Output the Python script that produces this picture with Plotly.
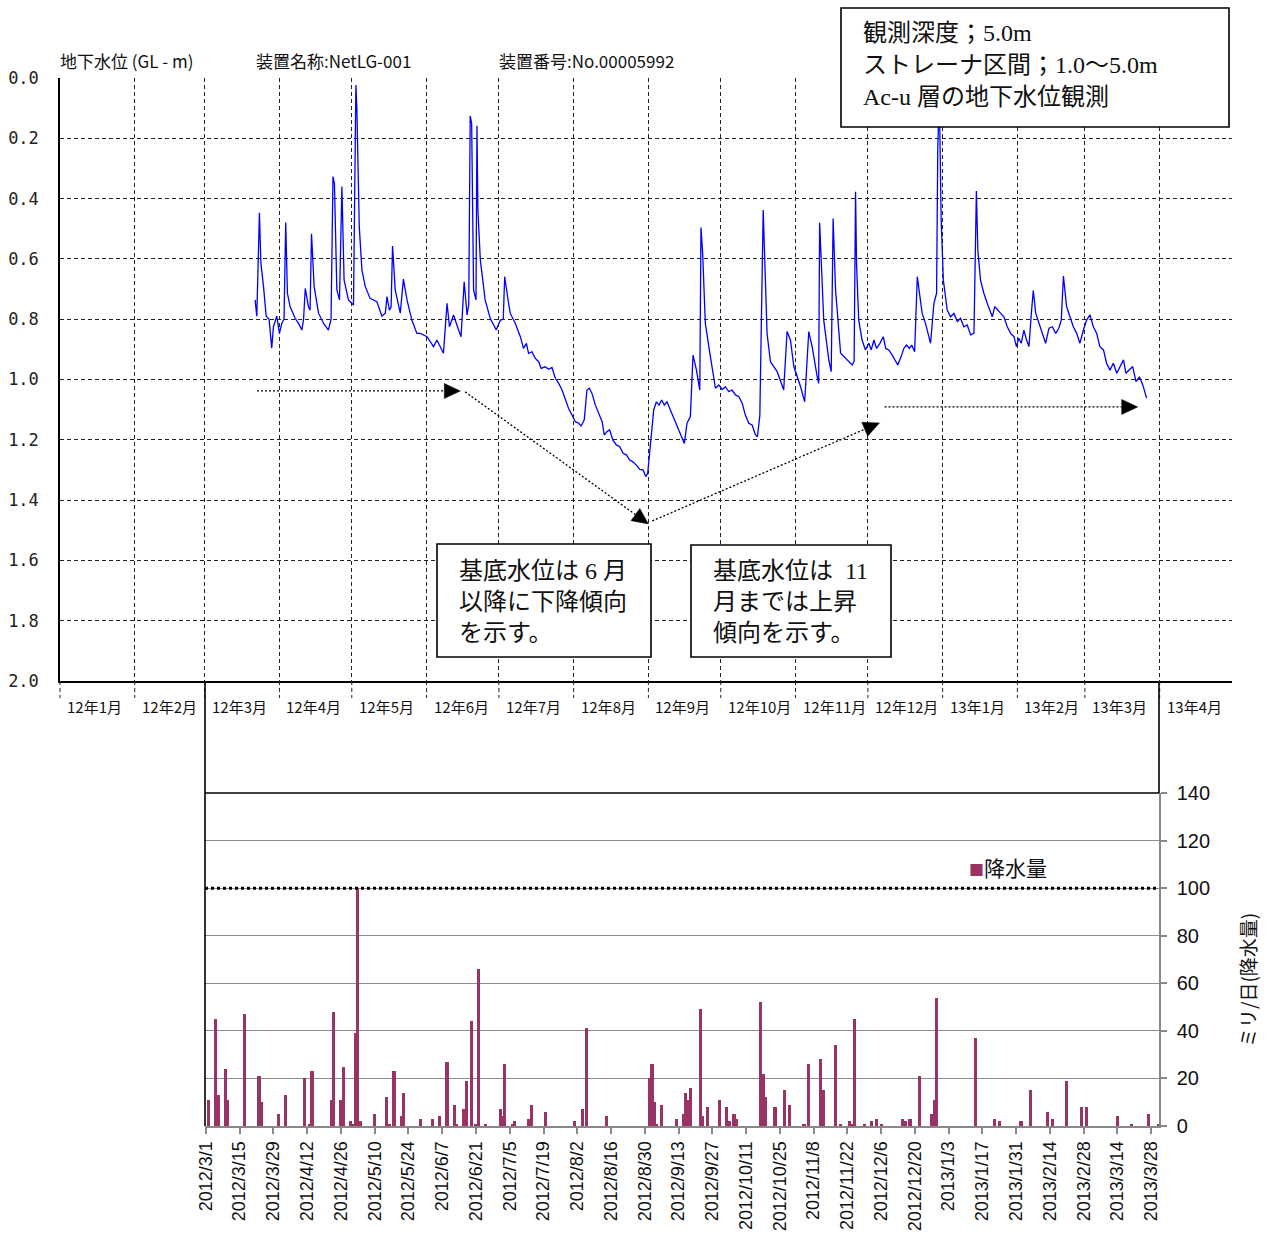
import math
import pandas as pd
import plotly.graph_objects as go

W, H = 1274, 1238

# ---------------------------------------------------------------------------
# Groundwater level record (NetLG-001): days elapsed since 2012-01-01 00:00
# and depth of the water table below ground level (m)
# ---------------------------------------------------------------------------
gw_day = [
    # Mar - mid Jul 2012
    80.9, 81.6, 82.7, 83.3, 84.4, 85.5, 86.7, 87.8, 88.5, 89.9, 91.0, 92.0, 92.9,
    93.6, 94.3, 95.4, 97.5, 98.9, 100.3, 101.0, 101.7, 103.0, 103.7, 104.3, 105.4,
    107.2, 109.3, 111.3, 112.4, 113.2, 113.8, 114.8, 115.9, 116.9, 117.8, 119.6,
    121.7, 122.7, 123.1, 124.1, 125.2, 126.6, 128.6, 131.4, 133.5, 134.9, 135.6,
    136.6, 137.3, 137.9, 139.0, 141.1, 142.4, 143.9, 145.9, 148.0, 149.4, 152.2,
    154.9, 156.3, 159.0, 160.5, 161.5, 163.2, 165.3, 166.3, 167.6, 168.8, 169.5,
    170.1, 170.7, 171.5, 172.5, 172.9, 173.3, 174.3, 176.3, 178.4, 180.9, 182.6,
    183.8, 184.4, 186.0,
    # Jul - Aug 2012 recession
    186.7, 188.8, 190.9, 192.2, 193.4, 194.3, 195.7, 197.1, 198.5, 199.5, 201.2,
    202.6, 204.0, 205.4, 206.8, 208.2, 209.5, 210.9, 212.3, 213.7, 215.1, 216.1,
    217.4, 218.5, 219.5, 220.6, 222.0, 223.4, 224.8, 225.7, 226.8, 227.9, 229.3,
    230.7, 232.1, 233.5, 234.9, 236.2, 237.6, 239.0, 240.4, 241.8, 242.9, 243.7,
    244.8,
    # Sep 2012
    246.2, 247.3, 248.4, 249.5, 250.6, 251.7, 253.1, 254.5, 255.9, 257.3, 258.9,
    260.0, 261.4, 262.5, 263.9, 265.3, 265.8, 266.5, 267.2, 267.6, 269.7,
    # Oct - Nov 2012
    271.8, 273.2, 274.6, 275.9, 277.3, 278.7, 280.1, 281.5, 282.9, 284.2, 285.6,
    287.0, 288.4, 289.2, 290.2, 291.6, 292.1, 293.2, 294.6, 297.4, 300.1, 301.5,
    302.9, 304.3, 307.1, 308.8, 310.5, 311.9, 314.0, 314.6, 315.0, 315.6, 316.7,
    318.8, 319.8, 320.6, 321.6, 323.7, 326.4, 328.5, 329.3, 329.9, 330.3,
    # Dec 2012
    331.2, 332.6, 334.0, 335.4, 336.4, 337.5, 338.6, 340.0, 341.4, 342.4, 343.7,
    345.1, 346.5, 347.4, 348.8, 349.9, 351.0, 352.2, 353.2, 354.4, 355.5, 357.5,
    358.9, 361.0, 362.4, 363.5, 364.0, 364.4, 364.8, 365.4, 366.3,
    # Jan - Mar 2013
    367.9, 369.3, 370.7, 372.1, 373.4, 374.8, 376.2, 377.6, 379.0, 380.0, 380.6,
    381.7, 383.1, 384.5, 385.9, 386.6, 387.6, 388.7, 390.0, 391.4, 392.8, 394.2,
    395.6, 396.6, 397.6, 398.6, 399.7, 400.8, 401.8, 402.8, 403.6, 404.6, 405.9,
    407.3, 408.7, 410.1, 411.5, 412.9, 414.2, 415.2, 416.1, 417.4, 418.8, 420.2,
    421.6, 422.9, 424.4, 425.7, 427.1, 428.5, 429.9, 431.2, 432.7, 434.0, 435.4,
    436.8, 438.2, 439.5, 441.0, 442.0, 443.4, 444.8, 446.2, 447.6, 449.0, 450.6,
]
gw_level = [
    # Mar - mid Jul 2012
    0.736, 0.790, 0.447, 0.614, 0.692, 0.790, 0.800, 0.896, 0.825, 0.790, 0.847, 0.813, 0.800,
    0.479, 0.714, 0.758, 0.797, 0.814, 0.836, 0.800, 0.698, 0.758, 0.770, 0.517, 0.692,
    0.780, 0.814, 0.836, 0.800, 0.327, 0.350, 0.703, 0.736, 0.360, 0.670, 0.736,
    0.753, 0.023, 0.100, 0.493, 0.637, 0.692, 0.731, 0.742, 0.790, 0.780, 0.725,
    0.770, 0.760, 0.557, 0.703, 0.780, 0.667, 0.736, 0.803, 0.847, 0.847, 0.858,
    0.891, 0.869, 0.913, 0.747, 0.825, 0.786, 0.836, 0.858, 0.676, 0.786, 0.750,
    0.126, 0.150, 0.703, 0.736, 0.158, 0.438, 0.604, 0.736, 0.797, 0.836, 0.803,
    0.800, 0.659, 0.747,
    # Jul - Aug 2012 recession
    0.780, 0.814, 0.858, 0.897, 0.880, 0.913, 0.908, 0.930, 0.941, 0.963, 0.958,
    0.966, 0.960, 0.996, 1.013, 1.035, 1.062, 1.096, 1.118, 1.140, 1.145, 1.154,
    1.134, 1.035, 1.029, 1.046, 1.085, 1.112, 1.140, 1.184, 1.173, 1.167, 1.201,
    1.217, 1.223, 1.245, 1.250, 1.267, 1.273, 1.284, 1.298, 1.300, 1.322, 1.311,
    1.223,
    # Sep 2012
    1.101, 1.074, 1.085, 1.068, 1.085, 1.074, 1.101, 1.129, 1.156, 1.179, 1.212,
    1.145, 1.123, 0.919, 0.968, 1.035, 0.496, 0.582, 0.780, 0.814, 0.924,
    # Oct - Nov 2012
    1.029, 1.018, 1.033, 1.024, 1.040, 1.035, 1.051, 1.057, 1.079, 1.118, 1.145,
    1.151, 1.184, 1.190, 1.120, 0.438, 0.559, 0.847, 0.941, 0.974, 1.035, 0.841,
    0.869, 0.957, 1.024, 1.074, 0.841, 0.891, 0.991, 1.013, 0.480, 0.604, 0.803,
    0.935, 0.974, 0.466, 0.703, 0.913, 0.935, 0.952, 0.940, 0.377, 0.615,
    # Dec 2012
    0.803, 0.869, 0.902, 0.880, 0.902, 0.869, 0.897, 0.880, 0.858, 0.897, 0.902,
    0.919, 0.941, 0.952, 0.924, 0.897, 0.886, 0.897, 0.886, 0.908, 0.659, 0.780,
    0.814, 0.880, 0.747, 0.714, 0.228, 0.120, 0.150, 0.471, 0.670,
    # Jan - Mar 2013
    0.770, 0.792, 0.781, 0.808, 0.797, 0.825, 0.819, 0.852, 0.847, 0.375, 0.570,
    0.670, 0.714, 0.747, 0.780, 0.792, 0.758, 0.770, 0.780, 0.792, 0.825, 0.847,
    0.858, 0.891, 0.863, 0.880, 0.836, 0.869, 0.891, 0.780, 0.705, 0.780, 0.814,
    0.847, 0.880, 0.830, 0.825, 0.847, 0.830, 0.803, 0.657, 0.758, 0.792, 0.825,
    0.847, 0.880, 0.836, 0.803, 0.786, 0.825, 0.847, 0.891, 0.902, 0.946, 0.969,
    0.946, 0.979, 0.957, 0.935, 0.979, 0.969, 0.957, 1.007, 0.991, 1.018, 1.062,
]

# ---------------------------------------------------------------------------
# Daily precipitation (mm/day)
# ---------------------------------------------------------------------------
rain_date = [
    "2012-03-02", "2012-03-05", "2012-03-06", "2012-03-09", "2012-03-10", "2012-03-17",
    "2012-03-23", "2012-03-24", "2012-03-31", "2012-04-03", "2012-04-11", "2012-04-13",
    "2012-04-14", "2012-04-22", "2012-04-23", "2012-04-26", "2012-04-27", "2012-04-30",
    "2012-05-01", "2012-05-02", "2012-05-03", "2012-05-04", "2012-05-10", "2012-05-15",
    "2012-05-16", "2012-05-18", "2012-05-21", "2012-05-22", "2012-05-29", "2012-06-03",
    "2012-06-06", "2012-06-09", "2012-06-12", "2012-06-13", "2012-06-16", "2012-06-17",
    "2012-06-19", "2012-06-21", "2012-06-22", "2012-06-25", "2012-07-01", "2012-07-02",
    "2012-07-03", "2012-07-06", "2012-07-07", "2012-07-13", "2012-07-14", "2012-07-20",
    "2012-08-01", "2012-08-04", "2012-08-06", "2012-08-14", "2012-09-01", "2012-09-02",
    "2012-09-03", "2012-09-04", "2012-09-06", "2012-09-12", "2012-09-15", "2012-09-16",
    "2012-09-17", "2012-09-18", "2012-09-22", "2012-09-23", "2012-09-25", "2012-09-30",
    "2012-10-03", "2012-10-04", "2012-10-06", "2012-10-07", "2012-10-17", "2012-10-18",
    "2012-10-19", "2012-10-23", "2012-10-27", "2012-10-29", "2012-11-04", "2012-11-06",
    "2012-11-11", "2012-11-12", "2012-11-17", "2012-11-19", "2012-11-23", "2012-11-24",
    "2012-11-25", "2012-11-29", "2012-12-02", "2012-12-04", "2012-12-06", "2012-12-15",
    "2012-12-16", "2012-12-18", "2012-12-22", "2012-12-27", "2012-12-28", "2012-12-29",
    "2013-01-14", "2013-01-22", "2013-01-24", "2013-02-02", "2013-02-06", "2013-02-13",
    "2013-02-15", "2013-02-21", "2013-02-27", "2013-03-01", "2013-03-14", "2013-03-20",
    "2013-03-27", "2013-03-31",
]
rain_mm = [
    11, 45, 13, 24, 11, 47,
    21, 10, 5, 13, 20, 1,
    23, 11, 48, 11, 25, 2,
    1, 39, 100, 2, 5, 12,
    1, 23, 4, 14, 3, 3,
    4, 27, 9, 1, 7, 19,
    44, 1, 66, 1, 7, 4,
    26, 1, 2, 3, 9, 6,
    2, 7, 41, 4, 20, 26,
    10, 1, 9, 3, 5, 14,
    11, 16, 49, 4, 8, 11,
    8, 2, 5, 3, 52, 22,
    12, 8, 15, 9, 1, 26,
    28, 15, 34, 1, 2, 1,
    45, 1, 2, 3, 1, 3,
    2, 3, 21, 5, 11, 54,
    37, 3, 2, 2, 15, 6,
    3, 19, 8, 8, 4, 1,
    5, 1,
]

month_label = ["12年1月", "12年2月", "12年3月", "12年4月", "12年5月", "12年6月",
               "12年7月", "12年8月", "12年9月", "12年10月", "12年11月", "12年12月",
               "13年1月", "13年2月", "13年3月", "13年4月"]
depth_ticks = [0.0, 0.2, 0.4, 0.6, 0.8, 1.0, 1.2, 1.4, 1.6, 1.8, 2.0]
rain_ticks = [0, 20, 40, 60, 80, 100, 120, 140]

# trend guides drawn over the level plot: (start day, start level, end day, end level)
trend_day0 = [81.7, 168.0, 245.6, 341.9]
trend_lvl0 = [1.038, 1.041, 1.469, 1.091]
trend_day1 = [166.0, 244.0, 339.8, 446.9]
trend_lvl1 = [1.038, 1.479, 1.144, 1.091]

assert len(gw_day) == len(gw_level)
assert len(rain_date) == len(rain_mm)

# ---------------------------------------------------------------------------
# page geometry (pixels) and helpers
# ---------------------------------------------------------------------------
BASE = pd.Timestamp("2012-01-01")
X_END = pd.Timestamp("2013-05-01")
SPAN_DAYS = (X_END - BASE).days
L1, R1, T1, B1 = 60, 1232, 78, 681        # level plot
L2, R2, T2, B2 = 205, 1159, 793, 1126     # precipitation plot


def px(x):
    return x / W


def py(y):
    return 1 - y / H


def day_to_px(d):
    return L1 + d * (R1 - L1) / SPAN_DAYS


def px_to_day(x):
    return (x - L1) * SPAN_DAYS / (R1 - L1)


def lvl_to_py(v):
    return T1 + v * (B1 - T1) / 2.0


def py_to_lvl(y):
    return (y - T1) * 2.0 / (B1 - T1)


def at_day(d):
    return BASE + pd.Timedelta(days=d)


gw_time = [at_day(d) for d in gw_day]
month_starts = pd.date_range("2012-01-01", "2013-04-01", freq="MS")

fig = go.Figure()

# groundwater level line
fig.add_trace(go.Scatter(
    x=gw_time, y=gw_level, mode="lines",
    line=dict(color="#0000ff", width=1.3),
    xaxis="x", yaxis="y", hoverinfo="skip",
))

# dotted trend guides with solid arrowheads
for d0, v0, d1, v1 in zip(trend_day0, trend_lvl0, trend_day1, trend_lvl1):
    x0, y0 = day_to_px(d0), lvl_to_py(v0)
    x1, y1 = day_to_px(d1), lvl_to_py(v1)
    n = math.hypot(x1 - x0, y1 - y0)
    ux, uy = (x1 - x0) / n, (y1 - y0) / n
    head_len, head_half = 16.0, 7.5
    bx, by = x1 - head_len * ux, y1 - head_len * uy
    fig.add_trace(go.Scatter(
        x=[at_day(d0), at_day(px_to_day(bx))], y=[v0, py_to_lvl(by)],
        mode="lines", line=dict(color="black", width=1.3, dash="2px,2px"),
        xaxis="x", yaxis="y", hoverinfo="skip",
    ))
    tri_x = [x1, bx - head_half * uy, bx + head_half * uy, x1]
    tri_y = [y1, by + head_half * ux, by - head_half * ux, y1]
    fig.add_trace(go.Scatter(
        x=[at_day(px_to_day(a)) for a in tri_x], y=[py_to_lvl(b) for b in tri_y],
        mode="lines", fill="toself", fillcolor="black", line=dict(color="black", width=0.5),
        xaxis="x", yaxis="y", hoverinfo="skip",
    ))

# precipitation bars (one category per day, centred at noon)
rain_time = [pd.Timestamp(d) + pd.Timedelta(hours=12) for d in rain_date]
fig.add_trace(go.Bar(
    x=rain_time, y=rain_mm, width=1.3 * 86400000,
    marker=dict(color="#993366", line=dict(width=0)),
    xaxis="x2", yaxis="y2", hoverinfo="skip",
))

# ---------------------------------------------------------------------------
# axes
# ---------------------------------------------------------------------------
grid_dash = "4px,3px"
fig.update_layout(
    xaxis=dict(
        domain=[px(L1), px(R1)], anchor="y", type="date", automargin=False,
        range=[BASE, X_END], tick0="2012-01-01", dtick="M1",
        showgrid=True, gridcolor="#222", gridwidth=1, griddash=grid_dash,
        showticklabels=False, ticks="", showline=True, linecolor="black", linewidth=1.5,
        zeroline=False,
    ),
    yaxis=dict(
        domain=[py(B1), py(T1)], anchor="x", range=[2.0, 0.0], automargin=False,
        tickvals=depth_ticks, ticktext=[f"{v:.1f}" for v in depth_ticks],
        showgrid=True, gridcolor="#222", gridwidth=1, griddash=grid_dash,
        ticks="", ticklabelstandoff=16,
        tickfont=dict(family="DejaVu Sans Mono", size=17, color="#222"),
        showline=True, linecolor="black", linewidth=1.5, zeroline=False,
    ),
)

x2_start = at_day(px_to_day(L2))
x2_end = at_day(px_to_day(R2))
tick_days = pd.date_range("2012-03-01", "2013-03-28", freq="14D")
fig.update_layout(
    xaxis2=dict(
        domain=[px(L2), px(R2)], anchor="y2", type="date", automargin=False,
        range=[x2_start, x2_end],
        tickvals=[d + pd.Timedelta(hours=12) for d in tick_days],
        ticktext=[f"{d.year}/{d.month}/{d.day}" for d in tick_days],
        tickangle=-90, ticks="outside", ticklen=6, tickcolor="#888", tickwidth=1.5,
        tickfont=dict(family="Liberation Sans", size=18, color="#111"),
        showgrid=False, showline=True, linecolor="#888", linewidth=2, zeroline=False,
    ),
    yaxis2=dict(
        domain=[py(B2), py(T2)], anchor="x2", side="right", range=[0, 140],
        automargin=False,
        tickvals=rain_ticks, showgrid=True, gridcolor="#8c8c8c", gridwidth=1.3,
        ticks="outside", ticklen=6, tickcolor="#888", tickwidth=1.5, ticklabelstandoff=6,
        tickfont=dict(family="Liberation Sans", size=20, color="#111"),
        showline=True, linecolor="#888", linewidth=1.5, zeroline=False,
    ),
)

# ---------------------------------------------------------------------------
# shapes: frame of the precipitation chart, 100 mm line, month stubs, boxes
# ---------------------------------------------------------------------------
shapes = []
for m in month_starts[1:]:
    shapes.append(dict(type="line", xref="x", yref="paper", x0=m, x1=m,
                       y0=py(B1), y1=py(B1 + 17),
                       line=dict(color="#222", width=1, dash=grid_dash)))
shapes.append(dict(type="line", xref="paper", yref="paper", x0=px(L1), x1=px(L1),
                   y0=py(B1), y1=py(B1 + 17), line=dict(color="#222", width=1, dash=grid_dash)))
frame = dict(color="black", width=1.6)
shapes += [
    dict(type="line", xref="paper", yref="paper", x0=px(L2), x1=px(L2),
         y0=py(B1), y1=py(B2), line=frame),
    dict(type="line", xref="paper", yref="paper", x0=px(R2), x1=px(R2),
         y0=py(B1 + 2), y1=py(T2), line=frame),
    dict(type="line", xref="paper", yref="paper", x0=px(L2), x1=px(R2),
         y0=py(T2), y1=py(T2), line=frame),
    dict(type="line", xref="paper", yref="y2", x0=px(L2), x1=px(R2),
         y0=100, y1=100, line=dict(color="black", width=3, dash="3px,3px")),
]
box_line = dict(color="black", width=1.6)
for (x0, y0, x1, y1) in [(841, 8, 1229, 127), (437, 544, 651, 657), (691, 545, 891, 657)]:
    shapes.append(dict(type="rect", xref="paper", yref="paper", layer="above",
                       x0=px(x0), x1=px(x1), y0=py(y1), y1=py(y0),
                       fillcolor="white", line=box_line))
fig.update_layout(shapes=shapes)

# ---------------------------------------------------------------------------
# text
# ---------------------------------------------------------------------------
ann = []
jp = "Noto Sans CJK JP"
serif = "Liberation Serif, Noto Sans CJK JP"


def label(x, y, text, size, family=jp, anchor="left", color="#111", **kw):
    ann.append(dict(xref="paper", yref="paper", x=px(x), y=py(y), text=text,
                    showarrow=False, xanchor=anchor, yanchor="middle",
                    font=dict(family=family, size=size, color=color), **kw))


label(58, 60, "地下水位 (GL - m)", 17)
label(254, 60, "装置名称:NetLG-001", 17)
label(497, 60, "装置番号:No.00005992", 17)

for m, t in zip(month_starts, month_label):
    ann.append(dict(xref="x", yref="paper", x=m, y=py(706), text=t, showarrow=False,
                    xanchor="left", yanchor="middle", xshift=5,
                    font=dict(family=jp, size=15, color="#111")))

for y, t in zip([33, 65, 97], ["観測深度；5.0m", "ストレーナ区間；1.0～5.0m", "Ac-u 層の地下水位観測"]):
    label(861, y, t, 24, family=serif)
for y, t in zip([571, 602, 633], ["基底水位は 6 月", "以降に下降傾向", "を示す。"]):
    label(457, y, t, 24, family=serif)
for y, t in zip([571, 602, 633], ["基底水位は  11", "月までは上昇", "傾向を示す。"]):
    label(711, y, t, 24, family=serif)

label(967, 867, "<span style='color:#993366;font-size:15px'>■</span>降水量", 21)
ann.append(dict(xref="paper", yref="paper", x=px(1247), y=py(980), text="ミリ/日(降水量)",
                showarrow=False, textangle=-90, xanchor="center", yanchor="middle",
                font=dict(family=jp, size=19, color="#111")))

fig.update_layout(
    annotations=ann,
    width=W, height=H, autosize=False,
    margin=dict(l=0, r=0, t=0, b=0),
    paper_bgcolor="white", plot_bgcolor="white",
    showlegend=False, bargap=0,
)

fig.write_html("out.html")
